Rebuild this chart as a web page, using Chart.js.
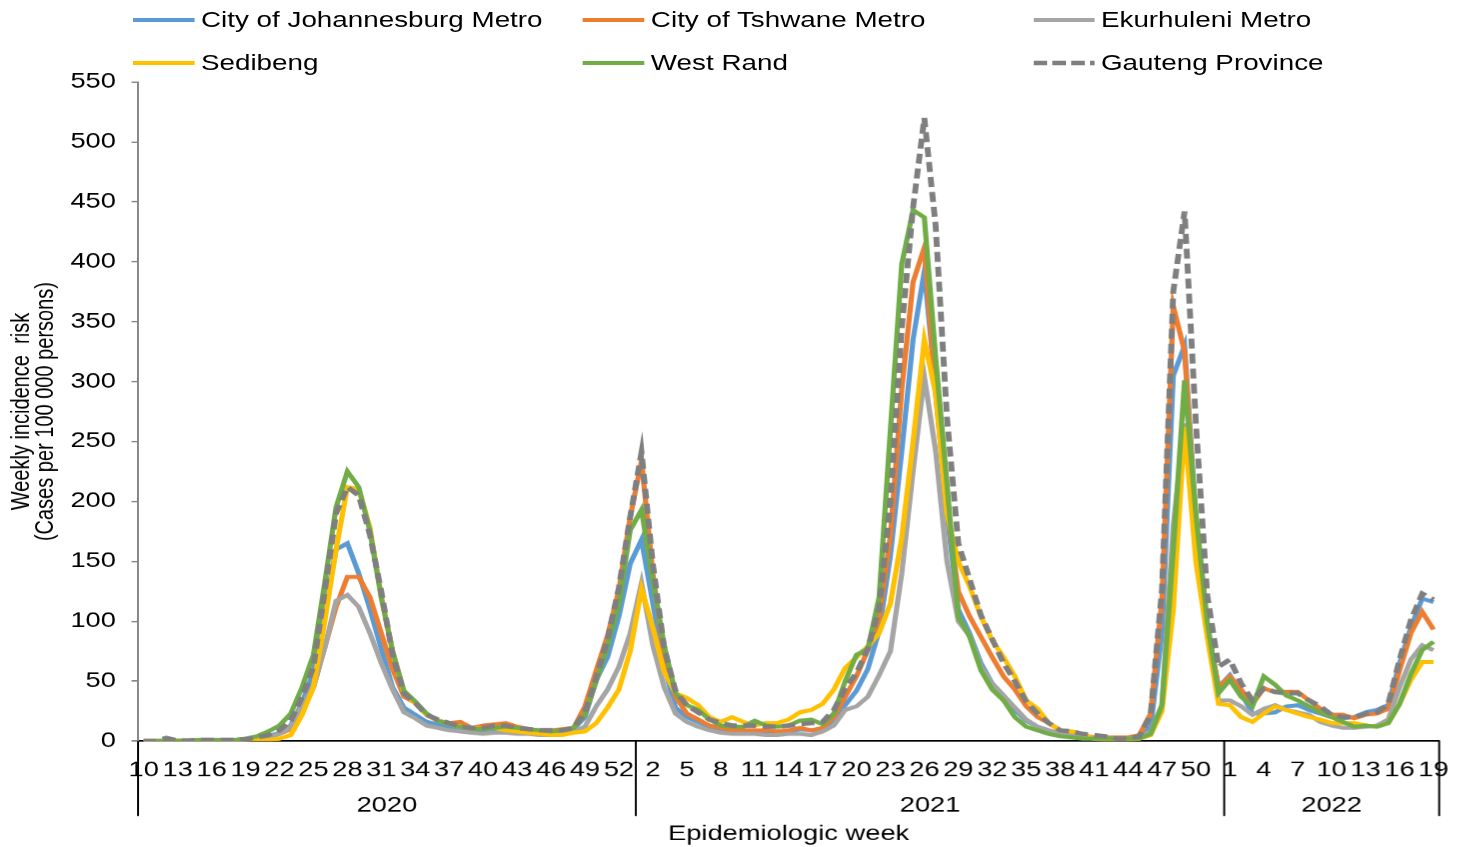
<!DOCTYPE html>
<html>
<head>
<meta charset="utf-8">
<script src="https://cdn.jsdelivr.net/npm/chart.js@4.4.1/dist/chart.umd.min.js"></script>
<style>
  html, body { margin: 0; padding: 0; background: #fff; }
  #stage { width: 1463px; height: 847px; position: relative; overflow: hidden; }
  /* the source picture is stretched sideways, so the whole chart is drawn narrow and widened */
  #wrap { position: absolute; left: 0; top: 0; width: 1125.4px; height: 847px; transform: scaleX(1.3); transform-origin: 0 0; }
  #legend .item { position: absolute; height: 24px; display: flex; align-items: center;
    font: 21.4px 'Liberation Sans', Arial, sans-serif; color: #000; white-space: nowrap; }
  #legend svg { margin-right: 4.6px; flex: none; }
</style>
</head>
<body>
<div id="stage">
  <div id="wrap">
    <canvas id="chart"></canvas>
    <div id="legend"></div>
  </div>
</div>
<script>
// epidemiologic weeks shown on the x axis
const weeks2020 = [10,11,12,13,14,15,16,17,18,19,20,21,22,23,24,25,26,27,28,29,30,31,32,33,34,35,36,37,38,39,40,41,42,43,44,45,46,47,48,49,50,51,52,53];
const weeks2021 = [1,2,3,4,5,6,7,8,9,10,11,12,13,14,15,16,17,18,19,20,21,22,23,24,25,26,27,28,29,30,31,32,33,34,35,36,37,38,39,40,41,42,43,44,45,46,47,48,49,50,51,52];
const weeks2022 = [1,2,3,4,5,6,7,8,9,10,11,12,13,14,15,16,17,18,19];
const years = ['2020', '2021', '2022'];
const yTicks = { min: 0, max: 550, step: 50 };

// weekly incidence risk per 100 000 (2020 w10..53, 2021 w1..52, 2022 w1..19)
const johannesburg = [
  0, 0, 0.5, 0.5, 0.5, 1, 1, 1, 1, 1.5,
  2, 4, 7, 13, 32, 58, 110, 160, 165, 140,
  110, 77, 45, 28, 22, 16, 14, 12, 10, 9,
  9, 10, 10, 9, 8, 7, 7, 7, 10, 20,
  51, 70, 104, 148,
  168, 115, 62, 28, 20, 16, 12, 10, 9, 9,
  9, 8, 8, 8, 10, 9, 10, 18, 30, 42,
  60, 92, 155, 242, 335, 392, 294, 190, 110, 90,
  65, 48, 38, 26, 17, 12, 9, 6, 5, 4,
  3, 2, 2, 2, 3, 12, 90, 305, 330, 185,
  95, 45,
  55, 40, 23, 23, 24, 29, 30, 26, 23, 20, 19, 20, 24, 26, 30, 65, 95, 119, 116
];
const tshwane = [
  0, 0, 0.5, 0.5, 0.5, 1, 1, 1, 1, 1.5,
  2, 3, 6, 10, 25, 45, 78, 112, 137, 137,
  120, 90, 60, 37, 32, 22, 17, 15, 16, 11,
  13, 14, 15, 12, 10, 9, 9, 10, 11, 29,
  59, 88, 126, 187,
  234, 140, 72, 37, 23, 18, 13, 11, 9, 9,
  9, 9, 8, 9, 11, 9, 11, 20, 37, 54,
  76, 103, 172, 294, 383, 412, 290, 195, 125, 104,
  87, 70, 54, 43, 29, 20, 15, 9, 6, 5,
  3, 3, 3, 3, 5, 23, 118, 363, 325, 180,
  95, 45,
  54, 43, 31, 44, 41, 41, 41, 34, 27, 22, 22, 19, 22, 23, 27, 59, 90, 108, 93
];
const ekurhuleni = [
  0, 0, 0.5, 0.5, 0.5, 1, 1, 1, 1, 1.5,
  2, 3, 6, 12, 30, 45, 78, 117, 122, 112,
  90, 65, 43, 24, 19, 13, 11, 9, 8, 7,
  6, 7, 7, 6, 6, 5, 5, 6, 8, 12,
  29, 43, 62, 90,
  132, 80, 45, 23, 16, 12, 9, 7, 6, 6,
  6, 5, 5, 6, 6, 5, 8, 13, 26, 29,
  37, 55, 75, 140, 225, 304, 242, 150, 100, 88,
  62, 48, 38, 28, 18, 12, 9, 6, 5, 4,
  2, 2, 2, 2, 3, 8, 30, 180, 265, 160,
  90, 34,
  34, 29, 22, 27, 30, 26, 24, 22, 16, 13, 11, 11, 12, 13, 18, 45, 68, 80, 76
];
const sedibeng = [
  0, 0, 0, 0, 0, 0.5, 0.5, 0.5, 0.5, 0.5,
  1, 1, 2, 5, 22, 45, 100, 160, 212, 210,
  178, 120, 75, 40, 32, 22, 17, 14, 12, 11,
  10, 11, 9, 8, 7, 6, 5, 5, 7, 8,
  15, 28, 43, 75,
  127, 95, 58, 40, 36, 30, 20, 16, 20, 16,
  13, 15, 15, 18, 24, 26, 31, 43, 61, 70,
  79, 90, 115, 170, 250, 335, 290, 190, 150, 129,
  104, 84, 70, 54, 34, 27, 15, 9, 8, 6,
  2, 1, 1, 1, 2, 5, 25, 110, 262, 150,
  87, 31,
  30, 20, 16, 23, 29, 26, 23, 20, 18, 15, 15, 15, 13, 12, 15, 31, 51, 66, 66
];
const westRand = [
  0, 0, 0.5, 0.5, 0.5, 1, 1, 1, 1, 2,
  4, 8, 13, 23, 45, 72, 132, 195, 225, 212,
  175, 120, 75, 42, 33, 23, 17, 14, 12, 10,
  10, 11, 12, 11, 10, 9, 8, 9, 11, 22,
  50, 80, 115, 176,
  193, 134, 80, 40, 30, 26, 18, 13, 12, 12,
  17, 13, 12, 13, 17, 18, 14, 23, 50, 72,
  77, 120, 260, 398, 443, 437, 320, 215, 104, 87,
  59, 43, 34, 20, 12, 9, 6, 4, 3, 2,
  2, 2, 2, 2, 2, 6, 30, 160, 301, 190,
  100, 40,
  51, 37, 29, 54, 47, 38, 34, 29, 24, 20, 16, 12, 13, 12, 15, 31, 56, 76, 83
];
const gauteng = [
  0, 0, 2.5, 0.5, 0.5, 1, 1, 1, 1, 1.5,
  3, 5, 9, 17, 37, 62, 125, 190, 212, 205,
  172, 125, 72, 40, 32, 22, 18, 15, 12, 11,
  11, 13, 13, 11, 10, 9, 9, 9, 11, 24,
  53, 85, 128, 187,
  241, 148, 78, 42, 30, 24, 18, 15, 13, 13,
  13, 12, 12, 13, 14, 15, 16, 26, 44, 57,
  77, 110, 200, 345, 445, 520, 430, 270, 165, 135,
  105, 85, 65, 50, 33, 23, 15, 9, 8, 6,
  5, 4, 2, 2, 4, 22, 126, 375, 442, 265,
  122, 62,
  68, 48, 34, 44, 41, 40, 40, 34, 29, 22, 20, 20, 23, 24, 31, 68, 101, 123, 118
];

const labels = [...weeks2020, ...weeks2021, ...weeks2022].map(String);
const yearSizes = [weeks2020.length, weeks2021.length, weeks2022.length];

const series = [
  { name: 'City of Johannesburg Metro', data: johannesburg, color: '#5B9BD5', order: 6 },
  { name: 'City of Tshwane Metro',      data: tshwane,      color: '#ED7D31', order: 5 },
  { name: 'Ekurhuleni Metro',           data: ekurhuleni,   color: '#A5A5A5', order: 4 },
  { name: 'Sedibeng',                   data: sedibeng,     color: '#FFC000', order: 3 },
  { name: 'West Rand',                  data: westRand,     color: '#70AD47', order: 2 },
  { name: 'Gauteng Province',           data: gauteng,      color: '#7F7F7F', order: 1, dash: [10, 5] },
];

const FONT = "'Liberation Sans', Arial, sans-serif";
Chart.defaults.font.family = FONT;

// legend: three columns, two rows (html, drawn in the narrow frame)
const legendSpots = [[102.3, 8], [448.4, 8], [794.6, 8], [102.3, 51], [448.4, 51], [794.6, 51]];
document.getElementById('legend').innerHTML = series.map((s, i) => `
  <div class="item" style="left:${legendSpots[i][0]}px;top:${legendSpots[i][1]}px">
    <svg width="47.7" height="6"><line x1="0" y1="3" x2="47.7" y2="3" stroke="${s.color}"
      stroke-width="${s.dash ? 4.5 : 4}" ${s.dash ? 'stroke-dasharray="10.5,4"' : ''}/></svg>${s.name}
  </div>`).join('');

// year group brackets under the week labels
const yearGroups = {
  id: 'yearGroups',
  afterDraw(chart) {
    const { ctx, chartArea, scales: { x } } = chart;
    const step = x.getPixelForValue(1) - x.getPixelForValue(0);
    const edges = [0];
    yearSizes.forEach(n => edges.push(edges[edges.length - 1] + n));
    const px = edges.map(i => x.getPixelForValue(i) - step / 2);
    ctx.save();
    ctx.strokeStyle = '#000';
    ctx.lineWidth = 1.5;
    px.forEach(p => {
      ctx.beginPath();
      ctx.moveTo(p, chartArea.bottom);
      ctx.lineTo(p, chartArea.bottom + 75);
      ctx.stroke();
    });
    ctx.fillStyle = '#000';
    ctx.font = `21px ${FONT}`;
    ctx.textAlign = 'center';
    ctx.textBaseline = 'middle';
    years.forEach((yr, k) => ctx.fillText(yr, (px[k] + px[k + 1]) / 2, chartArea.bottom + 65));
    ctx.fillText('Epidemiologic week', (chartArea.left + chartArea.right) / 2, chartArea.bottom + 93);
    ctx.restore();
  }
};

new Chart(document.getElementById('chart'), {
  type: 'line',
  data: {
    labels,
    datasets: series.map(s => ({
      label: s.name,
      data: s.data,
      borderColor: s.color,
      backgroundColor: s.color,
      borderWidth: s.dash ? 4.5 : 4,
      borderDash: s.dash || [],
      order: s.order,
      pointRadius: 0,
      tension: 0,
      fill: false,
    })),
  },
  options: {
    responsive: true,
    maintainAspectRatio: false,
    animation: false,
    devicePixelRatio: 1.3,
    layout: { padding: { left: 0, right: 18, top: 82, bottom: 0 } },
    plugins: { legend: { display: false }, tooltip: { enabled: false } },
    scales: {
      x: {
        type: 'category',
        offset: true,
        grid: { display: false },
        border: { display: true, color: '#000', width: 1.5 },
        ticks: {
          autoSkip: false, maxRotation: 0, minRotation: 0, padding: 9,
          color: '#000', font: { size: 21 },
          callback: (v, i) => (i % 3 === 0 ? labels[i] : ''),
        },
        afterFit: s => { s.height = 106; },
      },
      y: {
        min: yTicks.min,
        max: yTicks.max,
        grid: { display: true, drawOnChartArea: false, drawTicks: true, tickLength: 5, color: '#868686', lineWidth: 1.5 },
        border: { display: true, color: '#868686', width: 1.5 },
        ticks: { stepSize: yTicks.step, padding: 12, color: '#000', font: { size: 21 } },
        title: {
          display: true,
          text: ['Weekly incidence  risk', '(Cases per 100 000 persons)'],
          color: '#000',
          font: { size: 20, lineHeight: 0.9 },
          padding: { top: 8, bottom: 0 },
        },
        afterFit: s => { s.width = 106.2; },
      },
    },
  },
  plugins: [yearGroups],
});
</script>
</body>
</html>
